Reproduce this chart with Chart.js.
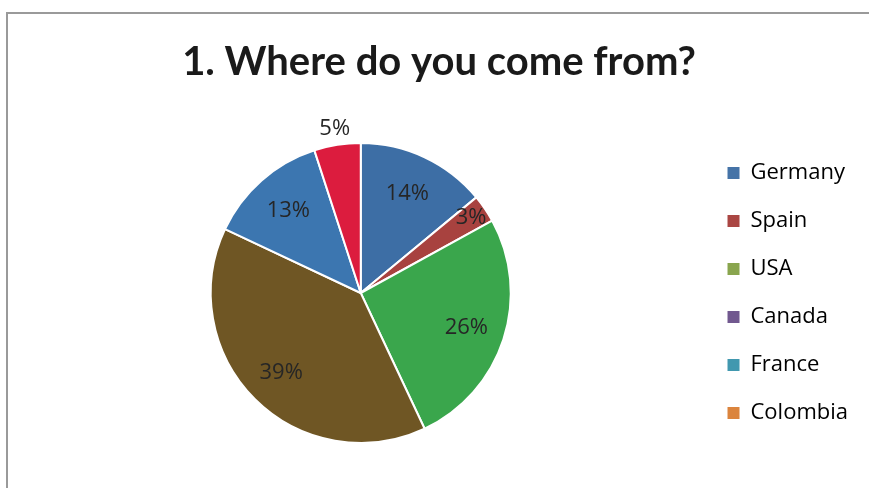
<!DOCTYPE html>
<html>
<head>
<meta charset="utf-8">
<script src="https://cdn.jsdelivr.net/npm/chart.js@4/dist/chart.umd.min.js"></script>
<style>
  html, body { margin: 0; padding: 0; background: #fff; overflow: hidden; }
  #frame { position: absolute; left: 6px; top: 12px; width: 900px; height: 500px;
           border-top: 2px solid #9a9a9a; border-left: 2px solid #9a9a9a; }
  #chart { position: absolute; left: 0; top: 0; }
</style>
</head>
<body>
<div id="frame"></div>
<canvas id="chart" width="869" height="488"></canvas>
<script>
// Données
const countries = ['Germany', 'Spain', 'USA', 'Canada', 'France', 'Colombia'];
const shares = [14, 3, 26, 39, 13, 5];
const sliceColors = ['#3D6EA5', '#A8423F', '#3AA64C', '#6F5624', '#3C76B0', '#DC1C3E'];
const legendColors = ['#4573A7', '#AA4643', '#89A54E', '#71588F', '#4198AF', '#DB843D'];

// Étiquettes de pourcentage sur chaque part
const pctLabels = {
  id: 'pctLabels',
  afterDatasetsDraw(chart, args, opts) {
    const ctx = chart.ctx;
    const meta = chart.getDatasetMeta(0);
    ctx.save();
    ctx.font = opts.font;
    ctx.fillStyle = opts.color;
    ctx.textAlign = 'center';
    ctx.textBaseline = 'middle';
    meta.data.forEach((arc, i) => {
      const p = arc.getProps(['x', 'y', 'startAngle', 'endAngle', 'outerRadius'], true);
      const mid = (p.startAngle + p.endAngle) / 2;
      const r = p.outerRadius * (opts.radius[i] || 0.74);
      ctx.fillText(chart.data.datasets[0].data[i] + '%', p.x + Math.cos(mid) * r, p.y + Math.sin(mid) * r);
    });
    ctx.restore();
  }
};

const ctx = document.getElementById('chart').getContext('2d');
window.originChart = new Chart(ctx, {
  type: 'pie',
  data: {
    labels: countries,
    datasets: [{
      data: shares,
      backgroundColor: sliceColors,
      borderColor: '#ffffff',
      borderWidth: 2,
      radius: 150,
    }],
  },
  options: {
    responsive: false,
    animation: false,
    layout: { padding: { left: 20, right: 11, top: 0, bottom: 25 } },
    plugins: {
      title: {
        display: true,
        text: '1. Where do you come from?',
        color: '#1a1a1a',
        font: { family: 'Lato', size: 40, weight: 'bold', lineHeight: 1.2 },
        padding: { top: 38, bottom: 37 },
      },
      legend: {
        position: 'right',
        fullSize: false,
        labels: {
          boxWidth: 12,
          boxHeight: 12,
          padding: 26,
          color: '#262626',
          font: { family: 'Open Sans', size: 22 },
          generateLabels: (chart) => chart.data.labels.map((name, i) => ({
            text: name,
            fillStyle: legendColors[i],
            strokeStyle: legendColors[i],
            lineWidth: 0,
            index: i,
          })),
        },
      },
      tooltip: { enabled: false },
      pctLabels: {
        font: '22px "Open Sans"',
        color: '#262626',
        radius: [0.73, 0.89, 0.74, 0.75, 0.73, 1.11],
      },
    },
  },
  plugins: [pctLabels],
});
</script>
</body>
</html>
